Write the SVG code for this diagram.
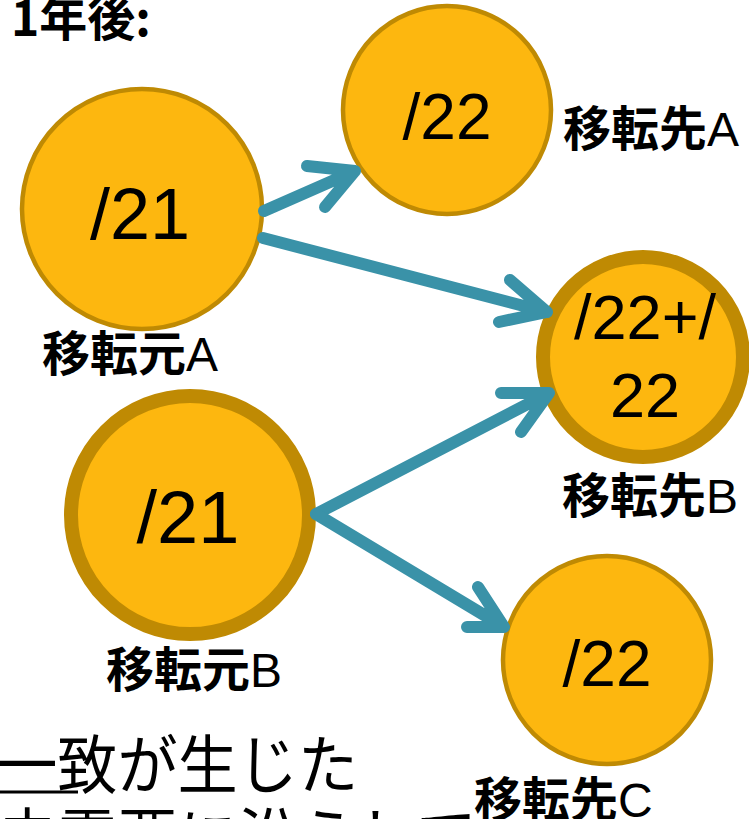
<svg xmlns="http://www.w3.org/2000/svg" width="749" height="819" viewBox="0 0 749 819">
<defs>
<style>
.node{fill:#FDB70F;stroke:#BF8A03;}
.thin{stroke-width:4.5;}
.thick{stroke-width:14;}
.num{font-family:"Liberation Sans",Arial,sans-serif;fill:#000;text-anchor:middle;}
.lbl{font-family:"Noto Sans CJK JP",sans-serif;font-weight:bold;font-size:48px;fill:#000;}
.lat{font-family:"Liberation Sans",Arial,sans-serif;font-weight:normal;}
.conn{fill:none;stroke:#3A92A8;stroke-width:12;stroke-linecap:round;stroke-linejoin:round;}
.body{font-family:"Noto Sans CJK JP",sans-serif;font-size:64px;fill:#000;}
</style>
</defs>
<rect width="749" height="819" fill="#fff"/>
<text x="11" y="36" font-family="Noto Sans CJK JP,sans-serif" font-weight="bold" font-size="48" fill="#000">1年後:</text>
<g id="node-dstA">
<circle class="node thin" cx="447" cy="110" r="104"/>
<text class="num" x="447" y="139" font-size="64">/22</text>
<text class="lbl" x="563" y="146">移転先<tspan class="lat">A</tspan></text>
</g>
<g id="node-srcA">
<circle class="node thin" cx="142" cy="209" r="120"/>
<text class="num" x="140" y="239" font-size="72">/21</text>
<text class="lbl" x="42" y="371">移転元<tspan class="lat">A</tspan></text>
</g>
<g id="node-dstB">
<circle class="node thick" cx="643" cy="357" r="100"/>
<text class="num" x="645" y="339" font-size="63">/22+/</text>
<text class="num" x="645" y="417" font-size="63">22</text>
<text class="lbl" x="562" y="513">移転先<tspan class="lat">B</tspan></text>
</g>
<g id="node-srcB">
<circle class="node thick" cx="190" cy="515" r="119"/>
<text class="num" x="188" y="543" font-size="74">/21</text>
<text class="lbl" x="106" y="687">移転元<tspan class="lat">B</tspan></text>
</g>
<g id="node-dstC">
<circle class="node thin" cx="607" cy="660" r="104"/>
<text class="num" x="607" y="686" font-size="64">/22</text>
</g>
<g id="text-body">
<g transform="scale(0.94,1)">
<text class="body" x="-3" y="788">一致が生じた</text>
<text class="body" x="-3" y="861">未需要に沿うして</text>
</g>
<line x1="0" y1="792" x2="78" y2="792" stroke="#000" stroke-width="3"/>
</g>
<text class="lbl" x="474" y="817">移転先<tspan class="lat">C</tspan></text>
<g id="connectors">
<path class="conn" d="M264,211 L355,171 M307,166 L355,171 L325,207"/>
<path class="conn" d="M263,238 L547,312 M510,280 L547,312 L499,322"/>
<path class="conn" d="M316,514 L549,393 M501,393 L549,393 L521,432"/>
<path class="conn" d="M316,514 L504,627 M478,587 L504,627 L467,627"/>
</g>
</svg>
